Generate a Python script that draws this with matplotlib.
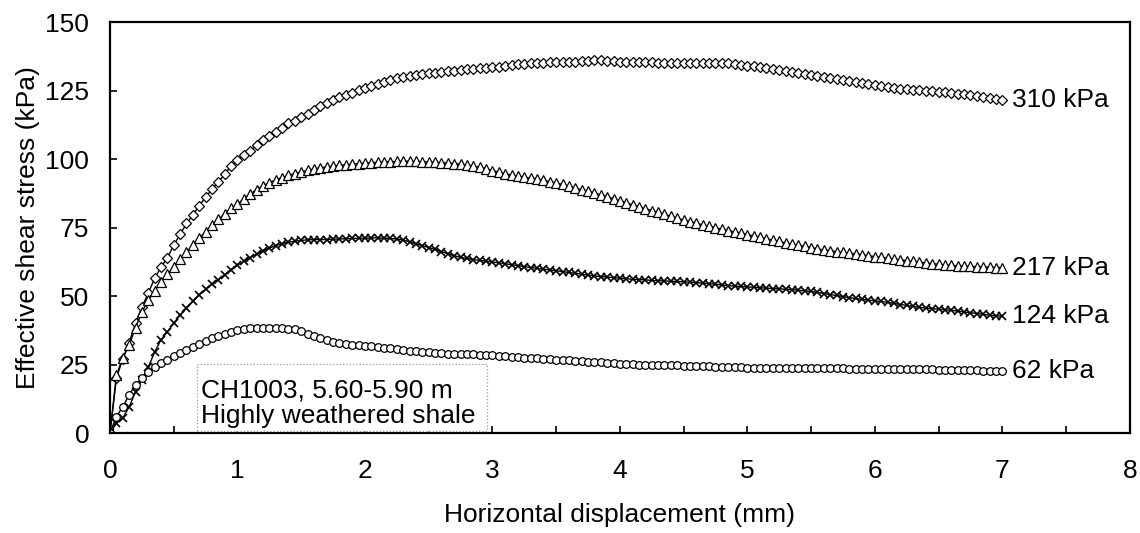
import numpy as np
import matplotlib
matplotlib.use("Agg")
import matplotlib.pyplot as plt
from matplotlib.ticker import MultipleLocator
from matplotlib.patches import Rectangle

plt.rcParams['font.family'] = ['Liberation Sans', 'DejaVu Sans']

# horizontal displacement (mm), one reading every 0.05 mm
disp = np.round(np.arange(0, 7.001, 0.05), 2)

# effective shear stress (kPa) for each normal stress
tau_310 = [
    0, 20, 27, 33, 40, 46, 51, 56.5, 60.5, 64, 68.5, 72.5, 76.5, 79.5, 83, 86, 89, 91.5, 94.5, 97.5,
    99.5, 101.5, 103, 105, 107, 108.5, 110, 111.5, 113, 114, 115.2, 116.5, 118, 119.3, 120.5, 121.5, 122.5, 123.3, 124.2, 125.2,
    126, 126.8, 127.5, 128.2, 129, 129.5, 129.9, 130.3, 130.7, 131, 131.3, 131.5, 131.8, 132, 132.2, 132.5, 132.7, 132.9, 133.1, 133.3,
    133.5, 133.7, 134, 134.3, 134.6, 134.8, 135, 135.1, 135.2, 135.3, 135.4, 135.4, 135.4, 135.5, 135.6, 135.8, 136.1, 136.3, 135.9, 135.6,
    135.5, 135.4, 135.4, 135.3, 135.3, 135.3, 135.2, 135.2, 135.2, 135.1, 135.1, 135, 135, 135, 135, 135, 135, 134.9, 134.7, 134.4,
    134.1, 133.8, 133.5, 133.1, 132.8, 132.4, 132, 131.7, 131.4, 131, 130.7, 130.3, 130, 129.6, 129.2, 128.8, 128.4, 128, 127.7, 127.3,
    127, 126.6, 126.3, 126, 125.7, 125.5, 125.3, 125.1, 124.9, 124.7, 124.5, 124.3, 124.1, 123.9, 123.6, 123.3, 123, 122.7, 122.3, 121.9,
    121.5]

tau_217 = [
    0, 21, 27.5, 32, 38.5, 44, 48.5, 52, 55, 58, 60.5, 63.5, 66, 68.5, 71, 73.5, 76, 78, 80, 82,
    83.5, 85.5, 87.3, 88.8, 90.2, 91.4, 92.4, 93.2, 94, 94.7, 95.3, 95.9, 96.4, 96.8, 97.1, 97.4, 97.7, 97.9, 98.1, 98.3,
    98.5, 98.6, 98.8, 98.9, 99, 99.1, 99.2, 99.2, 99.1, 99, 98.9, 98.8, 98.7, 98.5, 98.3, 98.1, 97.8, 97.4, 97, 96.5,
    95.8, 95.2, 94.6, 94.1, 93.7, 93.4, 93, 92.6, 92.2, 91.7, 91.2, 90.7, 90.1, 89.3, 88.8, 88.2, 87.6, 86.9, 86.2, 85.5,
    84.7, 84, 83.3, 82.6, 81.9, 81.2, 80.5, 79.8, 79.1, 78.4, 77.7, 77.1, 76.5, 76, 75.4, 74.9, 74.4, 73.9, 73.4, 72.9,
    72.4, 71.9, 71.4, 70.9, 70.4, 69.9, 69.4, 68.9, 68.5, 68.1, 67.7, 67.2, 66.8, 66.5, 66.2, 65.9, 65.6, 65.4, 65.1, 64.7,
    64.4, 64.1, 63.8, 63.5, 63.2, 62.9, 62.6, 62.3, 62.1, 61.8, 61.6, 61.4, 61.2, 61, 60.9, 60.8, 60.7, 60.6, 60.5, 60.4,
    60.4]

tau_124 = [
    0, 3.5, 5.5, 9.5, 15, 19.5, 24, 29.5, 34, 37, 40, 43, 45.5, 48, 50.5, 52.5, 54.3, 56, 57.8, 59.6,
    61.2, 62.7, 64, 65.3, 66.5, 67.5, 68.4, 69.1, 69.6, 70, 70.3, 70.5, 70.6, 70.6, 70.6, 70.7, 70.8, 70.9, 71, 71.1,
    71.1, 71.2, 71.2, 71.1, 71, 70.8, 70.4, 69.8, 69.1, 68.4, 67.7, 67, 66.2, 65.4, 64.7, 64.1, 63.7, 63.3, 63, 62.7,
    62.4, 62.1, 61.8, 61.4, 61.1, 60.7, 60.4, 60.1, 59.8, 59.5, 59.2, 58.9, 58.6, 58.3, 58, 57.6, 57.3, 57.1, 56.9, 56.7,
    56.5, 56.3, 56.1, 56, 55.9, 55.7, 55.6, 55.5, 55.4, 55.3, 55.2, 55, 54.9, 54.7, 54.5, 54.3, 54, 53.8, 53.6, 53.5,
    53.3, 53.2, 53, 52.9, 52.7, 52.6, 52.5, 52.3, 52.1, 51.9, 51.7, 51.3, 50.9, 50.5, 50.2, 49.8, 49.4, 49.1, 48.8, 48.5,
    48.2, 48, 47.7, 47.3, 46.9, 46.6, 46.2, 45.9, 45.6, 45.4, 45.2, 45, 44.8, 44.5, 44.2, 43.9, 43.6, 43.3, 43, 42.8,
    42.6]

tau_62 = [
    0, 6, 9.5, 14, 17.5, 20, 22.3, 24, 25.5, 26.8, 28, 29.3, 30.4, 31.4, 32.4, 33.4, 34.5, 35.5, 36.3, 37,
    37.5, 38, 38.3, 38.5, 38.5, 38.5, 38.5, 38.3, 38.1, 37.8, 37.2, 36.3, 35.3, 34.5, 33.8, 33.3, 32.9, 32.6, 32.3, 32,
    31.8, 31.6, 31.3, 31.1, 30.9, 30.7, 30.4, 30.1, 29.9, 29.6, 29.4, 29.2, 29.1, 29, 28.9, 28.9, 28.8, 28.7, 28.5, 28.4,
    28.3, 28.1, 28, 27.8, 27.7, 27.5, 27.4, 27.2, 27.1, 27, 26.8, 26.6, 26.5, 26.3, 26.2, 26, 25.9, 25.8, 25.6, 25.5,
    25.3, 25.2, 25.1, 25, 24.9, 24.9, 24.8, 24.8, 24.7, 24.7, 24.6, 24.5, 24.5, 24.4, 24.3, 24.2, 24.2, 24.1, 24, 24,
    23.9, 23.8, 23.8, 23.8, 23.8, 23.8, 23.8, 23.8, 23.8, 23.8, 23.7, 23.7, 23.7, 23.6, 23.6, 23.6, 23.5, 23.5, 23.5, 23.5,
    23.4, 23.4, 23.4, 23.4, 23.3, 23.3, 23.3, 23.2, 23.2, 23.2, 23.1, 23.1, 23.1, 23, 23, 22.9, 22.9, 22.8, 22.8, 22.7,
    22.7]

series = [
    ("310 kPa", tau_310, "D", 5.0, 0.9),
    ("217 kPa", tau_217, "^", 6.5, 0.9),
    ("124 kPa", tau_124, "x", 6.0, 1.2),
    ("62 kPa", tau_62, "o", 5.5, 0.9),
]

FS = 19

fig = plt.figure(figsize=(11.4, 5.33), dpi=100)
ax = fig.add_axes([0.0965, 0.1876, 0.8945, 0.7711])

for label, tau, marker, size, mew in series:
    ax.plot(disp, tau, color="black", linewidth=1.0, marker=marker, markersize=size,
            markerfacecolor="white", markeredgecolor="black", markeredgewidth=mew)
    ax.text(disp[-1] + 0.08, tau[-1], label, ha="left", va="center", fontsize=FS)

ax.set_xlim(0, 8)
ax.set_ylim(0, 150)
ax.xaxis.set_major_locator(MultipleLocator(1))
ax.xaxis.set_minor_locator(MultipleLocator(0.5))
ax.yaxis.set_major_locator(MultipleLocator(25))
ax.tick_params(axis="both", which="both", direction="in", labelsize=FS, width=1.2, length=5)
ax.tick_params(axis="x", which="major", pad=19)
ax.tick_params(axis="y", which="major", pad=15)
for side in ax.spines.values():
    side.set_linewidth(1.6)

ax.set_xlabel("Horizontal displacement (mm)", fontsize=FS, labelpad=14)
ax.set_ylabel("Effective shear stress (kPa)", fontsize=FS, labelpad=4)

# sample note, boxed with a faint dotted frame
ax.add_patch(Rectangle((0.68, 0.6), 2.28, 24.6, facecolor="white", edgecolor="#9a9a9a",
                       linestyle=":", linewidth=0.9, zorder=4))
ax.text(0.71, 2.0, "CH1003, 5.60-5.90 m\nHighly weathered shale", fontsize=FS,
        ha="left", va="bottom", linespacing=1.05, zorder=5)

fig.savefig("out.png", dpi=100)
